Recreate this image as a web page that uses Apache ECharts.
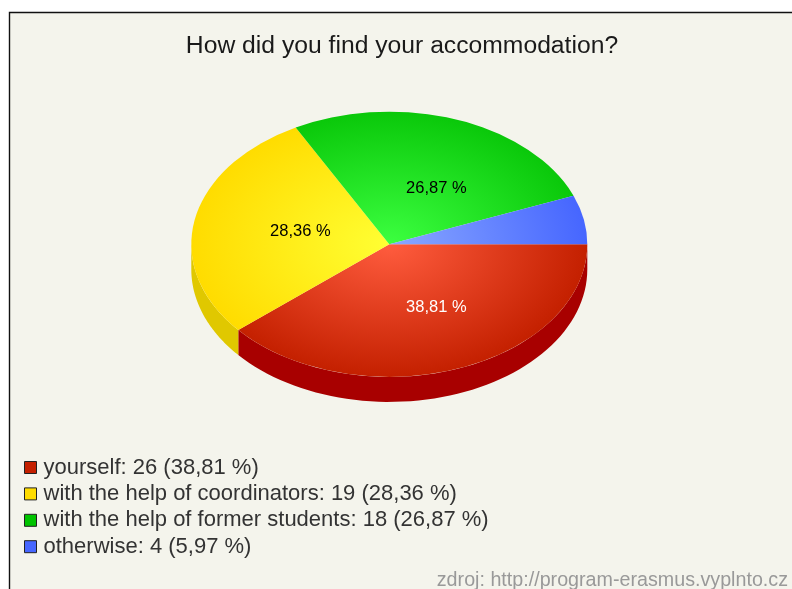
<!DOCTYPE html>
<html>
<head>
<meta charset="utf-8">
<style>html,body{margin:0;padding:0;background:#fff}#c{width:792px;height:589px}</style>
<script src="https://cdn.jsdelivr.net/npm/echarts@6/dist/echarts.min.js"></script>
</head>
<body>
<div id="c"></div>
<script>
const titleText = 'How did you find your accommodation?';
const sourceText = 'zdroj: http://program-erasmus.vyplnto.cz';
const categories = ['yourself', 'with the help of coordinators', 'with the help of former students', 'otherwise'];
const values = [26, 19, 18, 4];

const innerColors = ['#ff5c3e', '#ffff33', '#3cff40', '#8aa8ff'];
const outerColors = ['#c42000', '#ffdc00', '#0ac80a', '#4666ff'];
const swatchColors = ['#c42000', '#ffdc00', '#00c400', '#4666ff'];
const wallColors = ['#a80000', '#e0c800', '#0a9a0a', '#3450c8'];
const labelColors = ['#ffffff', '#000000', '#000000', '#000000'];
const labelShiftX = [47, -89, 47, 0];
const labelShiftY = [63, -13, -56, 0];

const PIE = { cx: 389.3, cy: 244.3, rx: 198, ry: 132.6, depth: 25 };
const total = values.reduce((a, b) => a + b, 0);
const pct = v => (v / total * 100).toFixed(2).replace('.', ',') + ' %';
const legendNames = categories.map((c, i) => c + ': ' + values[i] + ' (' + pct(values[i]) + ')');

function sliceAngles(i) {
  let before = 0;
  for (let k = 0; k < i; k++) before += values[k];
  return [before / total * Math.PI * 2, (before + values[i]) / total * Math.PI * 2];
}

function renderSlice(i) {
  return function () {
    const [a0, a1] = sliceAngles(i);
    const children = [];
    const wEnd = Math.min(a1, Math.PI);
    if (a0 < Math.PI) {
      const pts = [];
      const n = 60;
      for (let k = 0; k <= n; k++) {
        const t = a0 + (wEnd - a0) * k / n;
        pts.push([PIE.cx + PIE.rx * Math.cos(t), PIE.cy + PIE.ry * Math.sin(t)]);
      }
      for (let k = n; k >= 0; k--) {
        const t = a0 + (wEnd - a0) * k / n;
        pts.push([PIE.cx + PIE.rx * Math.cos(t), PIE.cy + PIE.depth + PIE.ry * Math.sin(t)]);
      }
      children.push({ type: 'polygon', shape: { points: pts }, style: { fill: wallColors[i] }, z2: 1 });
    }
    children.push({
      type: 'group', x: PIE.cx, y: PIE.cy, scaleY: PIE.ry / PIE.rx,
      children: [{
        type: 'sector', z2: 2,
        shape: { cx: 0, cy: 0, r0: 0, r: PIE.rx, startAngle: a0, endAngle: a1, clockwise: true },
        style: {
          fill: {
            type: 'radial', x: 0, y: 0, r: PIE.rx, global: true,
            colorStops: [{ offset: 0, color: innerColors[i] }, { offset: 1, color: outerColors[i] }]
          }
        }
      }]
    });
    if (values[i] / total >= 0.1) {
      children.push({
        type: 'text', z2: 3,
        x: PIE.cx + labelShiftX[i], y: PIE.cy + labelShiftY[i],
        style: {
          text: pct(values[i]), fill: labelColors[i], align: 'center', verticalAlign: 'middle',
          font: '16.5px "Liberation Sans", Arial, sans-serif'
        }
      });
    }
    return { type: 'group', children };
  };
}

const chart = echarts.init(document.getElementById('c'), null, { renderer: 'canvas' });
chart.setOption({
  animation: false,
  backgroundColor: '#ffffff',
  tooltip: { show: false },
  title: {
    text: titleText, left: 397, top: 29, textAlign: 'center',
    textStyle: { fontFamily: '"Liberation Sans", Arial, sans-serif', fontSize: 24.7, fontWeight: 'normal', color: '#1a1a1a' }
  },
  legend: {
    orient: 'vertical', left: 24, top: 456.5, itemWidth: 12, itemHeight: 12, itemGap: 4.4, padding: 0,
    selectedMode: false, icon: 'rect',
    data: legendNames.map((n, i) => ({ name: n, itemStyle: { color: swatchColors[i], borderColor: '#222222', borderWidth: 1 } })),
    textStyle: { fontFamily: '"Liberation Sans", Arial, sans-serif', fontSize: 22, color: '#333333', padding: [0, 0, 0, 2], lineHeight: 20 }
  },
  graphic: [
    { type: 'rect', z: -1, silent: true, shape: { x: 9.5, y: 12.5, width: 800, height: 600 }, style: { fill: '#f4f4ec', stroke: '#111111', lineWidth: 1.4 } },
    { type: 'text', z: 1, silent: true, right: 4, top: 571, style: { text: sourceText, fill: '#999999', font: '19.7px "Liberation Sans", Arial, sans-serif' } }
  ],
  series: values.map((v, i) => ({
    type: 'custom', name: legendNames[i], coordinateSystem: 'none', silent: true,
    z: 2, itemStyle: { color: swatchColors[i] },
    data: [[v]], renderItem: renderSlice(i)
  }))
});
</script>
</body>
</html>
